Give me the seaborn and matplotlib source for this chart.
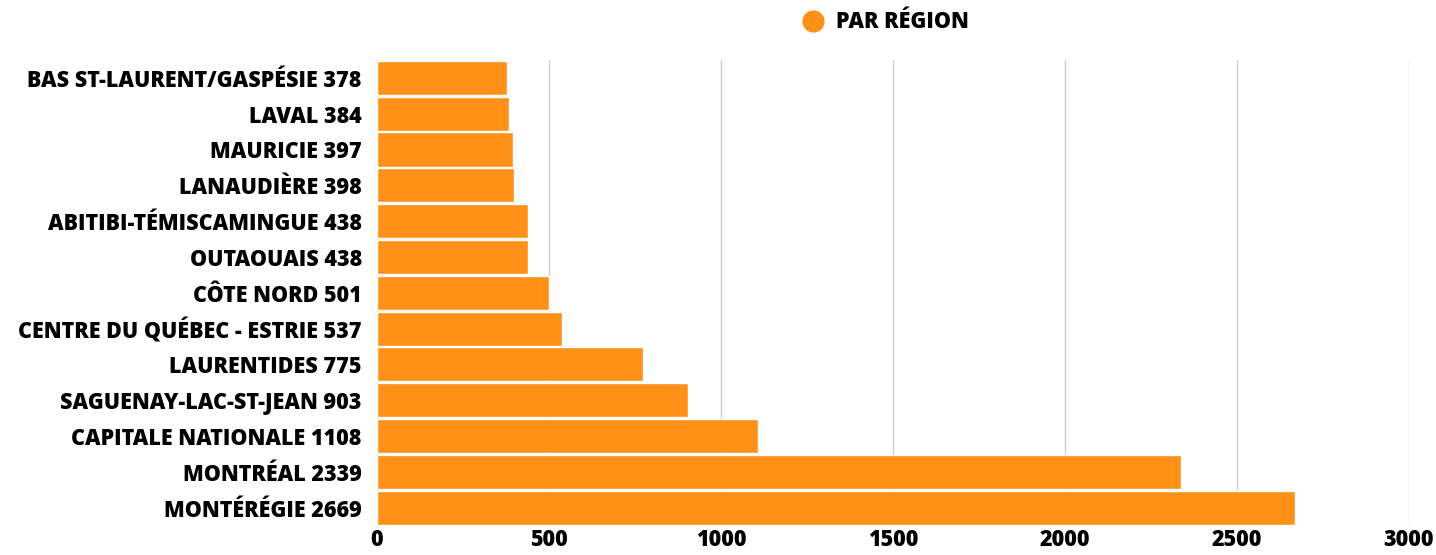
import matplotlib
matplotlib.use("Agg")
import matplotlib.pyplot as plt
import seaborn as sns
import pandas as pd
from matplotlib.lines import Line2D

# data
regions = ['BAS ST-LAURENT/GASPÉSIE', 'LAVAL', 'MAURICIE', 'LANAUDIÈRE',
           'ABITIBI-TÉMISCAMINGUE', 'OUTAOUAIS', 'CÔTE NORD',
           'CENTRE DU QUÉBEC - ESTRIE', 'LAURENTIDES', 'SAGUENAY-LAC-ST-JEAN',
           'CAPITALE NATIONALE', 'MONTRÉAL', 'MONTÉRÉGIE']
counts = [378, 384, 397, 398, 438, 438, 501, 537, 775, 903, 1108, 2339, 2669]
x_ticks = [0, 500, 1000, 1500, 2000, 2500, 3000]

df = pd.DataFrame({'Label': [f'{r} {c}' for r, c in zip(regions, counts)],
                   'Count': counts})

sns.set_style('white')
plt.rcParams['font.family'] = ['Open Sans', 'DejaVu Sans']
orange = '#FF9119'

fig = plt.figure(figsize=(14.36, 5.55), dpi=100)
ax = fig.add_axes([0.2625, 0.053, 0.7185, 0.839])

sns.barplot(data=df, x='Count', y='Label', color=orange, saturation=1,
            width=0.95, edgecolor='white', linewidth=1, ax=ax, zorder=2)

ax.set_xlim(0, 3000)
ax.set_ylim(12.5, -0.5)
ax.set_xticks(x_ticks)
ax.set_xticklabels([str(t) for t in x_ticks], fontsize=15.5, fontweight='black',
                   color='black')
ax.set_yticklabels(df['Label'], fontsize=15.5, fontweight='black', color='black')
ax.tick_params(axis='y', length=0, pad=11)
ax.tick_params(axis='x', length=0, pad=2)
ax.grid(axis='x', color='#cccccc', linewidth=1, zorder=0)
ax.set_axisbelow(True)
for s in ax.spines.values():
    s.set_visible(False)
ax.set_xlabel('')
ax.set_ylabel('')

handle = Line2D([], [], marker='o', linestyle='', markersize=15,
                markerfacecolor=orange, markeredgecolor=orange)
fig.legend([handle], ['PAR RÉGION'], loc='center', bbox_to_anchor=(0.613, 0.96),
           frameon=False, handletextpad=0.1, labelcolor='black',
           prop={'size': 15.5, 'weight': 'black', 'family': 'Open Sans'})

fig.savefig('out.png', dpi=100)
